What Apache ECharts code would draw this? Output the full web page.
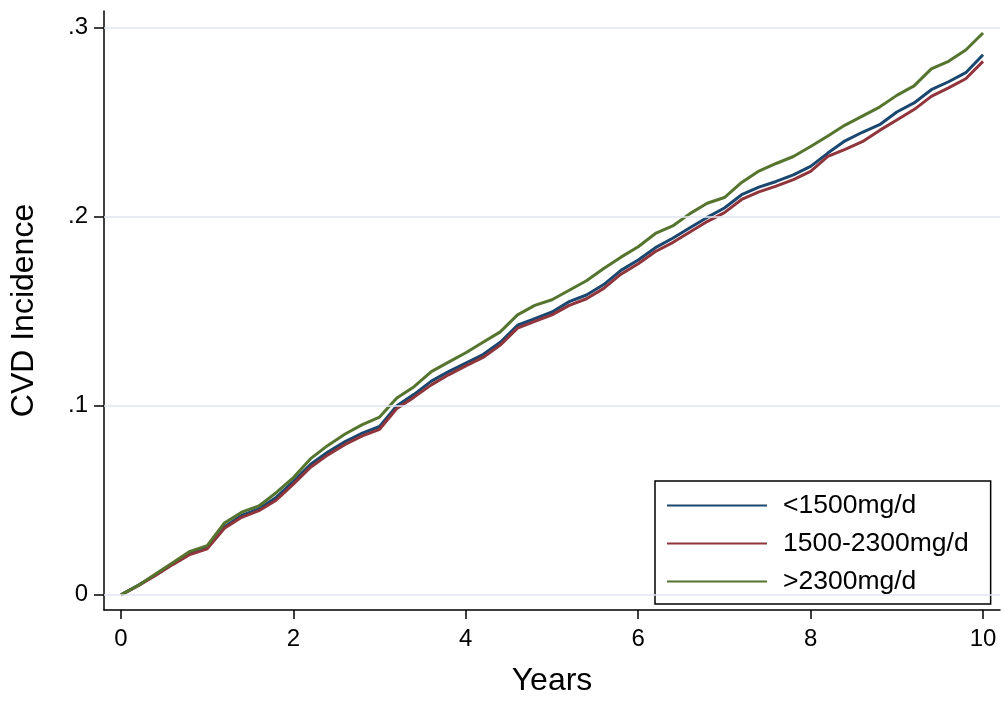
<!DOCTYPE html>
<html>
<head>
<meta charset="utf-8">
<script src="https://cdn.jsdelivr.net/npm/echarts@6/dist/echarts.min.js"></script>
<style>
  html, body { margin: 0; padding: 0; background: #fff; }
  #chart { width: 1004px; height: 702px; }
</style>
</head>
<body>
<div id="chart"></div>
<script>
  // years of follow-up
  const years = [0, 0.2, 0.4, 0.6, 0.8, 1.0, 1.2, 1.4, 1.6, 1.8, 2.0, 2.2, 2.4, 2.6, 2.8, 3.0, 3.2, 3.4, 3.6, 3.8,
    4.0, 4.2, 4.4, 4.6, 4.8, 5.0, 5.2, 5.4, 5.6, 5.8, 6.0, 6.2, 6.4, 6.6, 6.8, 7.0, 7.2, 7.4, 7.6, 7.8,
    8.0, 8.2, 8.4, 8.6, 8.8, 9.0, 9.2, 9.4, 9.6, 9.8, 10.0];

  const lowSodium = [0, 0.005, 0.0105, 0.0165, 0.022, 0.025, 0.036, 0.042, 0.0455, 0.0515, 0.060, 0.069, 0.0755, 0.081, 0.0855, 0.089, 0.100, 0.106, 0.113, 0.118,
    0.1225, 0.127, 0.1335, 0.1425, 0.146, 0.1495, 0.155, 0.1585, 0.164, 0.1715, 0.177, 0.1835, 0.1885, 0.194, 0.1995, 0.2045, 0.2115, 0.2155, 0.2185, 0.222,
    0.2265, 0.2335, 0.240, 0.2445, 0.2485, 0.2552, 0.260, 0.267, 0.2712, 0.276, 0.2855];

  const midSodium = [0, 0.0048, 0.0102, 0.016, 0.0213, 0.0243, 0.0352, 0.041, 0.0445, 0.050, 0.0585, 0.0675, 0.074, 0.0795, 0.084, 0.0875, 0.0985, 0.1045, 0.111, 0.1163,
    0.121, 0.1255, 0.132, 0.141, 0.1445, 0.148, 0.153, 0.1565, 0.162, 0.1695, 0.175, 0.1815, 0.1862, 0.1918, 0.1973, 0.202, 0.209, 0.213, 0.216, 0.2195,
    0.2238, 0.2318, 0.2355, 0.2395, 0.2455, 0.251, 0.2565, 0.2635, 0.268, 0.2728, 0.282];

  const highSodium = [0, 0.005, 0.011, 0.017, 0.023, 0.026, 0.038, 0.0437, 0.047, 0.054, 0.062, 0.072, 0.079, 0.085, 0.090, 0.094, 0.104, 0.110, 0.118, 0.123,
    0.128, 0.1335, 0.139, 0.148, 0.153, 0.156, 0.161, 0.166, 0.1725, 0.1785, 0.184, 0.191, 0.195, 0.2015, 0.207, 0.210, 0.218, 0.224, 0.228, 0.2317,
    0.237, 0.2425, 0.2483, 0.253, 0.2578, 0.264, 0.269, 0.278, 0.282, 0.288, 0.297];

  const seriesNames = ['<1500mg/d', '1500-2300mg/d', '>2300mg/d'];
  const xTicks = [0, 2, 4, 6, 8, 10];
  const yTicks = [0, 0.1, 0.2, 0.3];
  const yTickLabels = ['0', '.1', '.2', '.3'];

  const font = '"Liberation Sans", Arial, Helvetica, sans-serif';
  const colors = ['#1a476f', '#90353b', '#55752f'];

  const pairs = (vals) => years.map((t, i) => [t, vals[i]]);

  const myChart = echarts.init(document.getElementById('chart'));

  const option = {
    backgroundColor: '#fff',
    animation: false,
    textStyle: { fontFamily: font },
    grid: { left: 103, right: 4, top: 11, bottom: 89 },
    legend: {
      data: seriesNames,
      orient: 'vertical',
      left: 655,
      top: 481,
      padding: [11, 22, 9, 12],
      itemGap: 11,
      itemWidth: 100,
      itemHeight: 2,
      icon: 'rect',
      borderColor: '#000',
      borderWidth: 1.5,
      textStyle: { fontFamily: font, fontSize: 26.5, color: '#000', lineHeight: 26, padding: [0, 0, 0, 11] }
    },
    xAxis: {
      type: 'value',
      min: -0.197,
      max: 10.197,
      name: 'Years',
      nameLocation: 'middle',
      nameGap: 55,
      nameTextStyle: { fontFamily: font, fontSize: 32, color: '#000', verticalAlign: 'top' },
      axisLine: { onZero: false, lineStyle: { color: '#000', width: 1.5 } },
      axisTick: { customValues: xTicks, length: 9, lineStyle: { color: '#000', width: 1.5 } },
      axisLabel: { customValues: xTicks, margin: 17, fontSize: 24, color: '#000', fontFamily: font },
      splitLine: { show: false }
    },
    yAxis: {
      type: 'value',
      min: -0.008,
      max: 0.3086,
      name: 'CVD Incidence',
      nameLocation: 'middle',
      nameGap: 64,
      nameTextStyle: { fontFamily: font, fontSize: 32, color: '#000' },
      axisLine: { onZero: false, lineStyle: { color: '#000', width: 1.5 } },
      axisTick: { customValues: yTicks, length: 10, lineStyle: { color: '#000', width: 1.5 } },
      axisLabel: {
        customValues: yTicks, margin: 16, fontSize: 24, color: '#000', fontFamily: font,
        formatter: (v) => yTickLabels[yTicks.findIndex((t) => Math.abs(t - v) < 1e-6)]
      },
      splitLine: { show: false }
    },
    series: [
      {
        name: 'grid',
        type: 'line',
        data: [],
        silent: true,
        z: 1,
        markLine: {
          silent: true,
          symbol: 'none',
          label: { show: false },
          lineStyle: { color: '#e1e5ef', width: 1.5, type: 'solid' },
          data: yTicks.map((v) => ({ yAxis: v }))
        }
      },
      {
        name: seriesNames[0],
        type: 'line',
        data: pairs(lowSodium),
        showSymbol: false,
        z: 3,
        lineStyle: { color: colors[0], width: 3 },
        itemStyle: { color: colors[0] }
      },
      {
        name: seriesNames[1],
        type: 'line',
        data: pairs(midSodium),
        showSymbol: false,
        z: 3,
        lineStyle: { color: colors[1], width: 3 },
        itemStyle: { color: colors[1] }
      },
      {
        name: seriesNames[2],
        type: 'line',
        data: pairs(highSodium),
        showSymbol: false,
        z: 3,
        lineStyle: { color: colors[2], width: 3 },
        itemStyle: { color: colors[2] }
      }
    ]
  };

  // draw it
  myChart.setOption(option);
</script>
</body>
</html>
